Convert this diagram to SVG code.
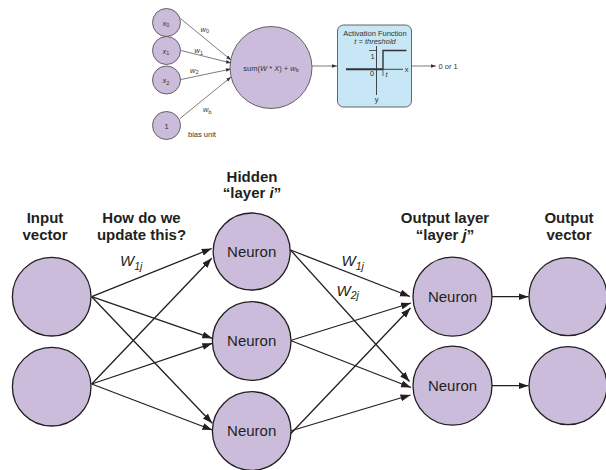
<svg xmlns="http://www.w3.org/2000/svg" width="606" height="470" viewBox="0 0 606 470">
<style>
.bg{fill:#ffffff}
.node{fill:#cbbcdc;stroke:#231f20;stroke-width:1.3}
.snode{fill:#cbbcdc;stroke:#444;stroke-width:0.8}
.edge{stroke:#231f20;stroke-width:1.3;fill:none;marker-end:url(#arr)}
.sedge{stroke:#444;stroke-width:0.7;fill:none;marker-end:url(#sarr)}
.hdr{font-family:"Liberation Sans",Arial,sans-serif;font-weight:bold;font-size:15px;fill:#231f20;text-anchor:middle}
.lbl{font-family:"Liberation Sans",Arial,sans-serif;font-size:15px;fill:#231f20;text-anchor:middle}
.wl{font-family:"Liberation Sans",Arial,sans-serif;font-size:15px;fill:#231f20;font-style:italic}
.sm{font-family:"Liberation Sans",Arial,sans-serif;font-size:7.5px;fill:#333}
.smc{font-family:"Liberation Sans",Arial,sans-serif;font-size:7.5px;fill:#333;text-anchor:middle}
.it{font-style:italic}
</style>
<defs>
<marker id="arr" markerUnits="userSpaceOnUse" markerWidth="11" markerHeight="8" refX="10" refY="3.5" orient="auto">
<path d="M0,0 L10,3.5 L0,7 z" fill="#231f20"/>
</marker>
<marker id="sarr" markerUnits="userSpaceOnUse" markerWidth="6" markerHeight="4" refX="5" refY="1.8" orient="auto">
<path d="M0,0 L5,1.8 L0,3.6 z" fill="#333"/>
</marker>
</defs>
<rect class="bg" x="0" y="0" width="606" height="470"/>

<!-- top: perceptron -->
<g id="top-connectors">
<line class="sedge" x1="180.5" y1="18.5" x2="231" y2="60"/>
<line class="sedge" x1="181" y1="50.5" x2="231" y2="63"/>
<line class="sedge" x1="181" y1="79.5" x2="231" y2="69"/>
<line class="sedge" x1="180" y1="118.5" x2="231" y2="77"/>
<line class="sedge" x1="312" y1="66" x2="337" y2="66"/>
<line class="sedge" x1="411.5" y1="66" x2="436" y2="66"/>
<text class="sm" x="200.5" y="31.5"><tspan class="it">w</tspan><tspan font-size="5.5" dy="1.5">0</tspan></text>
<text class="sm" x="194.5" y="53"><tspan class="it">w</tspan><tspan font-size="5.5" dy="1.5">1</tspan></text>
<text class="sm" x="190" y="72.5"><tspan class="it">w</tspan><tspan font-size="5.5" dy="1.5">2</tspan></text>
<text class="sm" x="203" y="112"><tspan class="it">w</tspan><tspan font-size="5.5" dy="1.5">b</tspan></text>
</g>
<g id="x0"><circle class="snode" cx="166.5" cy="22.5" r="14"/><text class="smc" x="166" y="25.5"><tspan class="it">x</tspan><tspan font-size="5.5" dy="1.5">0</tspan></text></g>
<g id="x1"><circle class="snode" cx="166.5" cy="50.5" r="14"/><text class="smc" x="166" y="53.5"><tspan class="it">x</tspan><tspan font-size="5.5" dy="1.5">1</tspan></text></g>
<g id="x2"><circle class="snode" cx="166.5" cy="80" r="14"/><text class="smc" x="166" y="83"><tspan class="it">x</tspan><tspan font-size="5.5" dy="1.5">2</tspan></text></g>
<g id="bias"><circle class="snode" cx="166.5" cy="125.5" r="14"/><text class="smc" x="166.5" y="128.5">1</text>
<text class="sm" x="188" y="137">bias unit</text></g>
<g id="sum"><circle class="snode" cx="271" cy="67.5" r="41"/>
<text class="smc" x="271" y="70.5" font-size="7.8">sum(<tspan class="it">W</tspan> * <tspan class="it">X</tspan>) + <tspan class="it">w</tspan><tspan font-size="5.5" dy="1.5">b</tspan></text></g>
<g id="activation">
<rect x="337.5" y="25" width="74" height="82" rx="6" ry="6" fill="#c7e6f6" stroke="#555" stroke-width="0.9"/>
<text class="smc" x="375" y="36" font-size="7.8">Activation Function</text>
<text class="smc" x="375" y="43.5" font-size="6.5" font-style="italic">t = threshold</text>
<line x1="376.5" y1="46" x2="376.5" y2="95" stroke="#333" stroke-width="0.9"/>
<line x1="346" y1="69.3" x2="383" y2="69.3" stroke="#333" stroke-width="2"/>
<line x1="383" y1="69.3" x2="403" y2="69.3" stroke="#333" stroke-width="0.9"/>
<polyline points="383,69.3 383,50.5 406.5,50.5" fill="none" stroke="#333" stroke-width="1.4"/>
<line x1="369" y1="50.5" x2="376" y2="50.5" stroke="#333" stroke-width="0.8"/>
<line x1="383" y1="69.3" x2="383" y2="76" stroke="#333" stroke-width="0.7"/>
<text class="smc" x="372.5" y="58.5" font-size="7">1</text>
<text class="smc" x="372" y="75.5" font-size="7">0</text>
<text class="smc" x="386.5" y="77" font-size="7" font-style="italic">t</text>
<text class="smc" x="406.5" y="72" font-size="7">x</text>
<text class="smc" x="376.5" y="101.5" font-size="7">y</text>
</g>
<text class="sm" x="438.5" y="68.5" font-size="8">0 or 1</text>

<!-- headers -->
<g id="headers">
<text class="hdr" x="45" y="223">Input</text>
<text class="hdr" x="45" y="240">vector</text>
<text class="hdr" x="141.5" y="223">How do we</text>
<text class="hdr" x="141.5" y="240">update this?</text>
<text class="hdr" x="252" y="181.5">Hidden</text>
<text class="hdr" x="252" y="198">“layer <tspan font-style="italic">i</tspan>”</text>
<text class="hdr" x="445" y="223">Output layer</text>
<text class="hdr" x="445" y="240">“layer <tspan font-style="italic">j</tspan>”</text>
<text class="hdr" x="569" y="223">Output</text>
<text class="hdr" x="569" y="240">vector</text>
</g>

<!-- bottom connectors -->
<g id="connectors">
<line class="edge" x1="91.7" y1="296.7" x2="211.7" y2="248.5"/>
<line class="edge" x1="91.7" y1="296.7" x2="212.3" y2="338.3"/>
<line class="edge" x1="91.7" y1="296.7" x2="212.3" y2="423.3"/>
<line class="edge" x1="91.7" y1="384" x2="211.7" y2="258.3"/>
<line class="edge" x1="91.7" y1="384" x2="212.3" y2="343.3"/>
<line class="edge" x1="91.7" y1="384" x2="212.3" y2="430"/>
<line class="edge" x1="290.5" y1="250" x2="410" y2="296.5"/>
<line class="edge" x1="290.5" y1="250" x2="409.5" y2="381.5"/>
<line class="edge" x1="290.5" y1="340.5" x2="411" y2="303"/>
<line class="edge" x1="290.5" y1="340.5" x2="411" y2="387.5"/>
<line class="edge" x1="290.4" y1="434" x2="410.5" y2="308"/>
<line class="edge" x1="290.4" y1="431" x2="410.5" y2="395"/>
<line class="edge" x1="492" y1="296.7" x2="528.5" y2="296.7"/>
<line class="edge" x1="492" y1="385.7" x2="528.5" y2="385.7"/>
<text class="wl" x="120" y="266">W<tspan font-size="10.5" dy="3.5">1<tspan font-style="italic">j</tspan></tspan></text>
<text class="wl" x="341.5" y="266">W<tspan font-size="10.5" dy="3.5">1j</tspan></text>
<text class="wl" x="336.5" y="295.5">W<tspan font-size="10.5" dy="3.5">2j</tspan></text>
</g>

<!-- bottom nodes -->
<g id="in1"><circle class="node" cx="51.7" cy="296.7" r="39.3"/></g>
<g id="in2"><circle class="node" cx="51.7" cy="386.7" r="39.3"/></g>
<g id="h1"><circle class="node" cx="251.7" cy="251.5" r="38.5"/><text class="lbl" x="251.7" y="256.7">Neuron</text></g>
<g id="h2"><circle class="node" cx="251.7" cy="341" r="39.3"/><text class="lbl" x="251.7" y="346.3">Neuron</text></g>
<g id="h3"><circle class="node" cx="251.7" cy="431" r="39.3"/><text class="lbl" x="251.7" y="436.3">Neuron</text></g>
<g id="o1"><circle class="node" cx="452.5" cy="296.7" r="39.5"/><text class="lbl" x="452.5" y="302">Neuron</text></g>
<g id="o2"><circle class="node" cx="452.5" cy="385.7" r="39.5"/><text class="lbl" x="452.5" y="391">Neuron</text></g>
<g id="v1"><circle class="node" cx="568" cy="296.7" r="39"/></g>
<g id="v2"><circle class="node" cx="568" cy="385.7" r="39"/></g>
</svg>
